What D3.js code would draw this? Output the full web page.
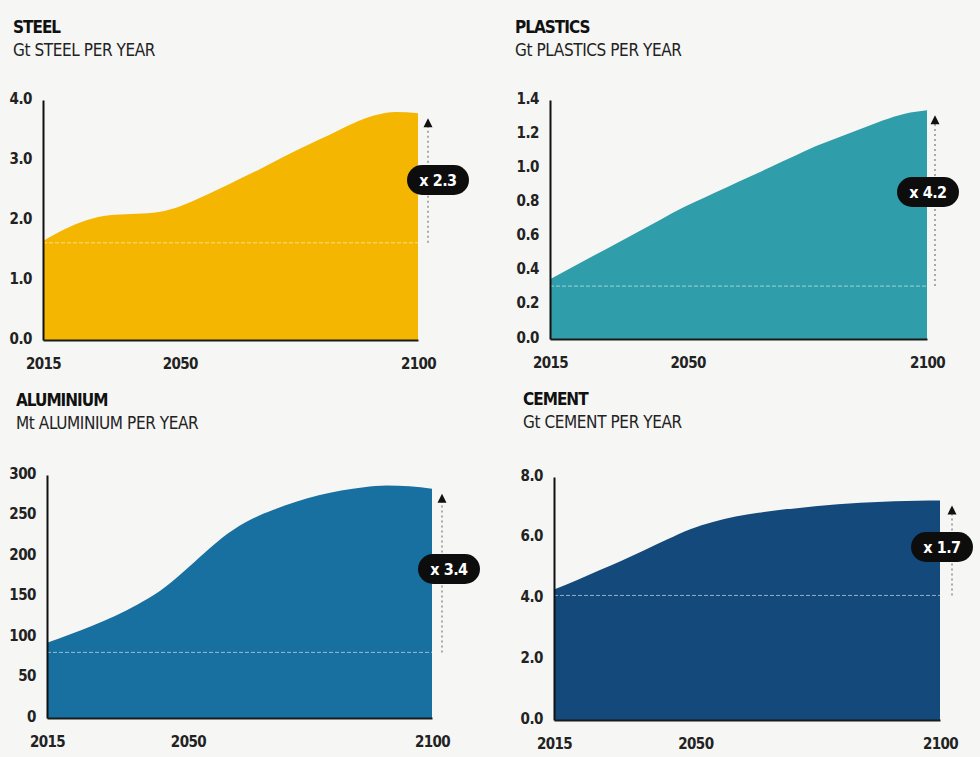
<!DOCTYPE html>
<html>
<head>
<meta charset="utf-8">
<script src="https://cdn.jsdelivr.net/npm/d3@7"></script>
<style>
  html, body { margin: 0; padding: 0; background: #f6f6f4; }
  svg { display: block; }
  .cond { font-family: "Liberation Sans Narrow", "DejaVu Sans Condensed", "DejaVu Sans", sans-serif; font-stretch: condensed; }
</style>
</head>
<body>
<svg id="chart" width="980" height="757"></svg>
<script>
// Years of the projection (5-year steps)
const years = [2015, 2020, 2025, 2030, 2035, 2040, 2045, 2050, 2055, 2060, 2065, 2070, 2075, 2080, 2085, 2090, 2095, 2100];
const xTickYears = [2015, 2050, 2100];

// Material demand per year
const steelValues     = [1.65, 1.85, 2.0, 2.08, 2.1, 2.12, 2.2, 2.35, 2.52, 2.7, 2.88, 3.07, 3.25, 3.42, 3.6, 3.74, 3.8, 3.78];
const plasticsValues  = [0.35, 0.42, 0.49, 0.56, 0.63, 0.70, 0.77, 0.83, 0.89, 0.95, 1.01, 1.07, 1.13, 1.18, 1.23, 1.28, 1.32, 1.34];
const aluminiumValues = [93, 103, 114, 126, 140, 157, 180, 205, 228, 245, 257, 267, 275, 281, 285, 287, 286, 283];
const cementValues    = [4.3, 4.6, 4.93, 5.25, 5.6, 5.95, 6.28, 6.52, 6.7, 6.82, 6.92, 7.0, 7.07, 7.13, 7.17, 7.2, 7.22, 7.23];

// 2015 reference levels and growth multipliers
const baseLevels  = [1.62, 0.31, 81, 4.1];
const multipliers = ["x 2.3", "x 4.2", "x 3.4", "x 1.7"];

// Titles and units
const titles    = ["STEEL", "PLASTICS", "ALUMINIUM", "CEMENT"];
const subtitles = ["Gt STEEL PER YEAR", "Gt PLASTICS PER YEAR", "Mt ALUMINIUM PER YEAR", "Gt CEMENT PER YEAR"];

// Y-axis tick labels
const steelTicks     = [0, 1, 2, 3, 4];
const plasticsTicks  = [0, 0.2, 0.4, 0.6, 0.8, 1.0, 1.2, 1.4];
const aluminiumTicks = [0, 50, 100, 150, 200, 250, 300];
const cementTicks    = [0, 2, 4, 6, 8];

const seriesValues = [steelValues, plasticsValues, aluminiumValues, cementValues];
const tickSets = [steelTicks, plasticsTicks, aluminiumTicks, cementTicks];
const yMax = [4, 1.4, 300, 8];
const tickFormats = [d3.format(".1f"), d3.format(".1f"), d3.format("d"), d3.format(".1f")];
const colors = ["#f5b602", "#2f9daa", "#1770a0", "#134a7b"];

// Panel frames
const frames = [
  { x0: 43,  x1: 418, top: 100, base: 340, tx: 13,  ty: 33,  pillDx: 10,  pillY: 180 },
  { x0: 550, x1: 927, top: 100, base: 339, tx: 515, ty: 33,  pillDx: -7,  pillY: 192 },
  { x0: 47,  x1: 432, top: 475, base: 718, tx: 16,  ty: 406, pillDx: 7,   pillY: 569 },
  { x0: 554, x1: 940, top: 477, base: 720, tx: 523, ty: 405, pillDx: -10, pillY: 547 }
];
const arrowGap = [10, 8, 10, 12];

const svg = d3.select("#chart");

frames.forEach((f, i) => {
  const g = svg.append("g");
  const values = seriesValues[i];
  const data = years.map((yr, k) => ({ yr, v: values[k] }));

  const x = d3.scaleLinear().domain([2015, 2100]).range([f.x0, f.x1]);
  const y = d3.scaleLinear().domain([0, yMax[i]]).range([f.base, f.top]);

  // Titles
  g.append("text").attr("class", "cond")
    .attr("x", f.tx).attr("y", f.ty)
    .attr("font-size", 17).attr("font-weight", "bold").attr("fill", "#111")
    .attr("letter-spacing", -1)
    .text(titles[i]);
  g.append("text").attr("class", "cond")
    .attr("x", f.tx).attr("y", f.ty + 23)
    .attr("font-size", 17).attr("fill", "#222")
    .attr("letter-spacing", -0.4)
    .text(subtitles[i]);

  // Area
  const area = d3.area()
    .x(d => x(d.yr)).y0(y(0)).y1(d => y(d.v))
    .curve(d3.curveMonotoneX);
  g.append("path").datum(data).attr("d", area).attr("fill", colors[i]);

  // 2015 reference level
  g.append("line")
    .attr("x1", x(2015)).attr("x2", x(2100))
    .attr("y1", y(baseLevels[i])).attr("y2", y(baseLevels[i]))
    .attr("stroke", "rgba(255,255,255,0.55)").attr("stroke-width", 1)
    .attr("stroke-dasharray", "4,2");

  // Y axis
  const yAxis = d3.axisLeft(y).tickValues(tickSets[i]).tickFormat(tickFormats[i]).tickSize(0).tickPadding(11);
  const ya = g.append("g").attr("transform", `translate(${f.x0},0)`).call(yAxis);
  ya.select(".domain").attr("stroke", "#111").attr("stroke-width", 2);
  ya.selectAll("text").attr("class", "cond")
    .attr("font-size", 15).attr("font-weight", "bold").attr("fill", "#222")
    .attr("letter-spacing", -0.5)
    .attr("dy", "0.2em");

  // X axis
  const xAxis = d3.axisBottom(x).tickValues(xTickYears).tickFormat(d3.format("d")).tickSize(0).tickPadding(18);
  const xa = g.append("g").attr("transform", `translate(0,${f.base})`).call(xAxis);
  xa.select(".domain").attr("stroke", "#1a1a1a").attr("stroke-width", 2);
  xa.selectAll("text").attr("class", "cond")
    .attr("font-size", 15).attr("font-weight", "bold").attr("fill", "#222")
    .attr("letter-spacing", -0.6)
    .attr("text-anchor", (d, k) => k === 1 ? "end" : "middle");

  // Growth arrow
  const endV = values[values.length - 1];
  const ax = f.x1 + arrowGap[i];
  const tipY = y(endV) + 5;
  g.append("line")
    .attr("x1", ax).attr("x2", ax)
    .attr("y1", y(baseLevels[i])).attr("y2", tipY + 8)
    .attr("stroke", "#777").attr("stroke-width", 1.2)
    .attr("stroke-dasharray", "2,3");
  g.append("path")
    .attr("d", `M${ax},${tipY} L${ax - 4.5},${tipY + 9} L${ax + 4.5},${tipY + 9} Z`)
    .attr("fill", "#111");

  // Multiplier pill
  const pw = 62, ph = 30;
  const pcx = ax + f.pillDx;
  g.append("rect")
    .attr("x", pcx - pw / 2).attr("y", f.pillY - ph / 2)
    .attr("width", pw).attr("height", ph)
    .attr("rx", ph / 2).attr("ry", ph / 2)
    .attr("fill", "#0d0d0d");
  g.append("text").attr("class", "cond")
    .attr("x", pcx).attr("y", f.pillY).attr("dy", "0.36em")
    .attr("text-anchor", "middle")
    .attr("font-size", 16).attr("font-weight", "bold").attr("fill", "#fff")
    .attr("letter-spacing", -0.5)
    .text(multipliers[i]);
});
</script>
</body>
</html>
